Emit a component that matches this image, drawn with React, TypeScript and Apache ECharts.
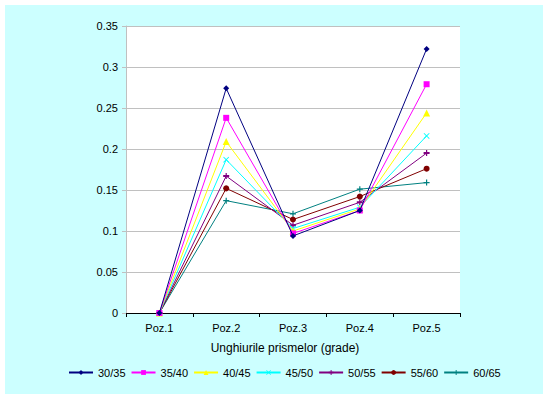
import React, { useEffect, useRef } from "react";
import * as echarts from "echarts";

const categories = ["Poz.1", "Poz.2", "Poz.3", "Poz.4", "Poz.5"];
const seriesNames = ["30/35", "35/40", "40/45", "45/50", "50/55", "55/60", "60/65"];
const s3035 = [0, 0.274, 0.094, 0.125, 0.322];
const s3540 = [0, 0.238, 0.097, 0.125, 0.279];
const s4045 = [0, 0.209, 0.1, 0.127, 0.244];
const s4550 = [0, 0.187, 0.103, 0.129, 0.216];
const s5055 = [0, 0.167, 0.107, 0.135, 0.195];
const s5560 = [0, 0.152, 0.114, 0.142, 0.176];
const s6065 = [0, 0.137, 0.121, 0.151, 0.159];
const seriesValues = [s3035, s3540, s4045, s4550, s5055, s5560, s6065];
const yTicks = { min: 0, max: 0.35, interval: 0.05 };
const axisTitle = "Unghiurile prismelor (grade)";

const colors = ["#000080", "#FF00FF", "#FFFF00", "#00FFFF", "#800080", "#800000", "#008080"];
const plusPath = "path://M4,0h2v4h4v2h-4v4h-2v-4h-4v-2h4z";
const xPath = "path://M1,0L5,4L9,0L10,1L6,5L10,9L9,10L5,6L1,10L0,9L4,5L0,1z";
const barPath = "path://M0,4h10v2h-10z M4,2h2v6h-2z";
const symbols = ["diamond", "rect", "triangle", xPath, barPath, "circle", plusPath];
const sizes = [6, 6, 7, 6, 6, 6, 6];

export default function App() {
  const ref = useRef<HTMLDivElement>(null);
  useEffect(() => {
    document.body.style.margin = "0";
    const chart = echarts.init(ref.current!, undefined, { renderer: "svg" });
    const font = "Liberation Sans, Arial, sans-serif";
    chart.setOption({
      animation: false,
      backgroundColor: "#FFFFFF",
      textStyle: { fontFamily: font },
      graphic: [
        {
          type: "rect",
          z: -10,
          shape: { x: 5, y: 5, width: 538, height: 389 },
          style: { fill: "#CCFFFF" },
          silent: true,
        },
        {
          type: "rect",
          z: -9,
          shape: { x: 126, y: 26, width: 334, height: 287 },
          style: { fill: "#FFFFFF" },
          silent: true,
        },
        {
          type: "text",
          x: 285,
          y: 348,
          style: {
            text: axisTitle,
            font: "12px Liberation Sans, Arial, sans-serif",
            fill: "#000",
            align: "center",
            verticalAlign: "middle",
          },
        },
      ],
      grid: { left: 126, right: 88, top: 26, bottom: 86, containLabel: false },
      legend: {
        data: seriesNames,
        left: 63,
        top: 362,
        itemWidth: 24,
        itemHeight: 6,
        itemGap: 5,
        textStyle: { fontSize: 11, color: "#000", fontFamily: font },
      },
      xAxis: {
        type: "category",
        data: categories,
        boundaryGap: true,
        axisLine: { show: true, lineStyle: { color: "#000", width: 1 } },
        axisTick: { show: true, length: 4, inside: false, lineStyle: { color: "#000" } },
        axisLabel: { color: "#000", fontSize: 11, margin: 9 },
        splitLine: { show: false },
      },
      yAxis: {
        type: "value",
        min: yTicks.min,
        max: yTicks.max,
        interval: yTicks.interval,
        axisLine: { show: true, lineStyle: { color: "#C0C0C0" } },
        axisTick: { show: true, length: 4, lineStyle: { color: "#C0C0C0" } },
        axisLabel: { color: "#000", fontSize: 11, margin: 8 },
        splitLine: { show: true, lineStyle: { color: "#C0C0C0", width: 1 } },
      },
      series: seriesNames.map((name, i) => ({
        name,
        type: "line",
        data: seriesValues[i],
        symbol: symbols[i],
        symbolSize: sizes[i],
        showAllSymbol: true,
        lineStyle: { color: colors[i], width: 1 },
        itemStyle: { color: colors[i], borderColor: colors[i], borderWidth: 0 },
        z: 10 - i,
      })),
    });
    return () => chart.dispose();
  }, []);
  return <div ref={ref} style={{ width: 548, height: 399 }} />;
}
